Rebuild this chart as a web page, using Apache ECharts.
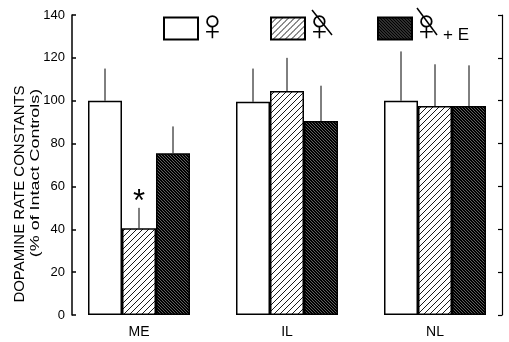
<!DOCTYPE html>
<html><head><meta charset="utf-8">
<script src="https://cdn.jsdelivr.net/npm/echarts@6/dist/echarts.min.js"></script>
<style>html,body{margin:0;padding:0;background:#fff}#c{width:509px;height:342px}</style>
</head><body><div id="c"></div>
<script>
// ---- data ----
const categories = ['ME', 'IL', 'NL'];
const seriesKeys = ['intact', 'ovx', 'ovxE'];
const legendLabels = ['♀', '♀', '♀{e|+ E}'];
const intact = [100, 99.5, 100];
const ovx = [40.5, 104.5, 97.5];
const ovxE = [75.5, 90.5, 97.5];
// top of the (upper-only) error bar
const intactErrTop = [115, 115, 123];
const ovxErrTop = [50, 120, 117];
const ovxEErrTop = [88, 107, 116.5];
// significance markers: [categoryIndex, seriesIndex]
const significant = [[0, 1]];
const yMin = 0, yMax = 140, yInterval = 20;

// ---- styles ----
const FONT = 'Liberation Sans, Arial, sans-serif';
const BAR_W = 34;

function makePattern(size, bg, fg, lw, slash) {
  const c = document.createElement('canvas');
  c.width = c.height = size;
  const g = c.getContext('2d');
  g.fillStyle = bg; g.fillRect(0, 0, size, size);
  g.strokeStyle = fg; g.lineWidth = lw;
  g.beginPath();
  for (let k = -1; k <= 1; k++) {
    const o = k * size;
    if (slash) { g.moveTo(o, size); g.lineTo(o + size, 0); }
    else { g.moveTo(o, 0); g.lineTo(o + size, size); }
  }
  g.stroke();
  return c;
}
const hatch = makePattern(6, '#fff', '#000', 0.9, true);
const dark = makePattern(3, '#000', '#777', 0.8, false);

const fills = [
  '#ffffff',
  { image: hatch, repeat: 'repeat' },
  { image: dark, repeat: 'repeat' }
];
const values = [intact, ovx, ovxE];
const errTops = [intactErrTop, ovxErrTop, ovxEErrTop];

const errData = [];
values.forEach((vals, s) => {
  categories.forEach((c, i) => {
    const sig = significant.some(p => p[0] === i && p[1] === s) ? 1 : 0;
    errData.push([i, s, vals[i], errTops[s][i], sig]);
  });
});

const chart = echarts.init(document.getElementById('c'), null, { renderer: 'canvas' });

const barSeries = seriesKeys.map((k, s) => ({
  name: k,
  type: 'bar',
  data: values[s],
  barWidth: BAR_W,
  barGap: '0%',
  itemStyle: { color: fills[s], borderColor: '#000', borderWidth: 1.5 },
  emphasis: { disabled: true },
  animation: false,
  z: 2
}));

const legendLefts = [158, 265, 372];
const legends = seriesKeys.map((k, s) => ({
  data: [k],
  left: legendLefts[s],
  top: 2,
  itemWidth: 34,
  itemHeight: 22,
  itemGap: 0,
  icon: 'rect',
  selectedMode: false,
  formatter: () => legendLabels[s],
  textStyle: {
    color: '#000', fontSize: 44, fontFamily: 'DejaVu Sans', fontWeight: 200,
    lineHeight: 30, padding: [1, 0, 0, -7],
    rich: { e: { fontSize: 17, fontFamily: FONT, fontWeight: 'normal', color: '#000', lineHeight: 30, padding: [12, 0, 0, 0] } }
  }
}));

const option = {
  backgroundColor: '#fff',
  animation: false,
  grid: { left: 65, top: 15, width: 450, height: 300, containLabel: false },
  legend: legends,
  xAxis: {
    type: 'category',
    data: categories,
    axisLine: { show: false },
    axisTick: { show: false },
    axisLabel: { color: '#000', fontSize: 14, fontFamily: FONT, margin: 10 },
    splitLine: { show: false }
  },
  yAxis: [{
    type: 'value', min: yMin, max: yMax, interval: yInterval,
    position: 'left', offset: -7,
    axisLine: { show: true, lineStyle: { color: '#000', width: 1.5 } },
    axisTick: { show: true, inside: true, length: 4, lineStyle: { color: '#000', width: 1.5 } },
    axisLabel: { color: '#000', fontSize: 13, fontFamily: FONT, margin: 7 },
    splitLine: { show: false }
  }, {
    type: 'value', min: yMin, max: yMax, interval: yInterval,
    position: 'right', offset: -7,
    axisLine: { show: true, lineStyle: { color: '#000', width: 1.2 } },
    axisTick: { show: true, inside: true, length: 4, lineStyle: { color: '#000', width: 1.2 } },
    axisLabel: { show: false },
    splitLine: { show: false }
  }],
  series: barSeries.concat([{
    type: 'custom',
    name: 'err',
    data: errData,
    encode: { x: 0, y: 3 },
    z: 3,
    silent: true,
    renderItem: function (params, api) {
      const ci = api.value(0), si = api.value(1);
      const base = api.coord([ci, api.value(2)]);
      const top = api.coord([ci, api.value(3)]);
      const x = base[0] + (si - 1) * BAR_W;
      const children = [{
        type: 'line',
        shape: { x1: x, y1: base[1], x2: x, y2: top[1] },
        style: { stroke: '#000', lineWidth: 1 }
      }];
      if (api.value(4)) {
        children.push({
          type: 'text',
          style: {
            text: '*', x: x, y: top[1] - 5, fill: '#000',
            font: '31px ' + FONT, textAlign: 'center', textVerticalAlign: 'middle'
          }
        });
      }
      return { type: 'group', children: children };
    }
  }]),
  graphic: [
    { type: 'text', x: 20, y: 194, rotation: Math.PI / 2, scaleX: 1.07,
      style: { text: 'DOPAMINE RATE CONSTANTS', font: '14px ' + FONT, fill: '#000', textAlign: 'center', textVerticalAlign: 'middle' } },
    { type: 'text', x: 35, y: 173, rotation: Math.PI / 2, scaleX: 1.38,
      style: { text: '(% of Intact Controls)', font: '13px ' + FONT, fill: '#000', textAlign: 'center', textVerticalAlign: 'middle' } },
    { type: 'line', shape: { x1: 312, y1: 10, x2: 332, y2: 35 }, style: { stroke: '#000', lineWidth: 1.5 } },
    { type: 'line', shape: { x1: 417, y1: 8, x2: 437, y2: 35 }, style: { stroke: '#000', lineWidth: 1.5 } }
  ]
};
chart.setOption(option);
</script>
</body></html>
